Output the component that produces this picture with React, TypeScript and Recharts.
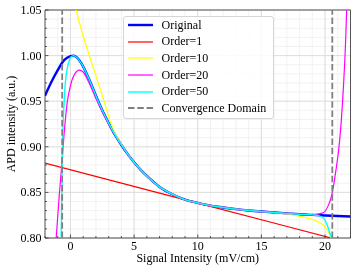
import {
  LineChart,
  Line,
  XAxis,
  YAxis,
  CartesianGrid,
  ReferenceLine,
  ReferenceArea,
  Legend,
  Label,
} from 'recharts'

const FONT = '"Liberation Serif", "Times New Roman", serif'

// axis ticks
const xTicks = [-2, -1, 0, 1, 2, 3, 4, 5, 6, 7, 8, 9, 10, 11, 12, 13, 14, 15, 16, 17, 18, 19, 20, 21, 22]
const xMajorTicks = [0, 5, 10, 15, 20]
const yTicks = [
  0.8, 0.81, 0.82, 0.83, 0.84, 0.85, 0.86, 0.87, 0.88, 0.89, 0.9, 0.91, 0.92, 0.93, 0.94, 0.95, 0.96,
  0.97, 0.98, 0.99, 1.0, 1.01, 1.02, 1.03, 1.04, 1.05,
]
const yMajorTicks = [0.8, 0.85, 0.9, 0.95, 1.0, 1.05]

// convergence domain of the expansion (mV/cm)
const convergenceBounds = [-0.65, 20.57]

// [signal intensity, APD intensity]
const originalPoints: [number, number][] = [
  [-2, 0.956], [-1.5, 0.971], [-1, 0.984], [-0.5, 0.995], [0, 0.9995], [0.25, 1.0], [0.5, 0.998],
  [1, 0.988], [1.5, 0.973], [2, 0.956], [2.5, 0.94], [3, 0.926], [3.5, 0.913], [4, 0.902],
  [4.5, 0.892], [5, 0.883], [5.5, 0.875], [6, 0.868], [7, 0.856], [8, 0.848], [9, 0.842],
  [10, 0.8385], [11, 0.8355], [12, 0.8335], [13, 0.8317], [14, 0.8302], [15, 0.829], [16, 0.828],
  [17, 0.827], [18, 0.826], [19, 0.8253], [20, 0.8247], [21, 0.8241], [22, 0.8235],
]

const order1Points: [number, number][] = [
  [-2, 0.8822], [10, 0.8383], [22, 0.7944],
]

const order10Points: [number, number][] = [
  [0, 1.078], [0.45, 1.05], [0.8, 1.031], [1.12, 1.016], [1.5, 0.999], [1.95, 0.98], [2.35, 0.963],
  [2.73, 0.946], [3.125, 0.928], [3.5, 0.915], [4, 0.903], [4.5, 0.892], [5, 0.883], [5.5, 0.875],
  [6, 0.868], [7, 0.856], [8, 0.848], [9, 0.842], [10, 0.8385], [11, 0.8355], [12, 0.8335],
  [13, 0.8317], [14, 0.8302], [15, 0.829], [16, 0.8278], [17, 0.8264], [18, 0.8238], [18.5, 0.8222],
  [19, 0.8203], [19.5, 0.8172], [19.9, 0.8137], [20.15, 0.809], [20.35, 0.804], [20.55, 0.797],
  [20.8, 0.785],
]

const order20Points: [number, number][] = [
  [-1.3, 0.767], [-1.12, 0.8], [-0.9, 0.843], [-0.68, 0.881], [-0.5, 0.914], [-0.25, 0.949],
  [0, 0.967], [0.3, 0.979], [0.7, 0.984], [1, 0.982], [1.43, 0.971], [2, 0.953], [2.5, 0.938],
  [3, 0.925], [3.5, 0.913], [4, 0.902], [4.5, 0.892], [5, 0.883], [5.5, 0.875], [6, 0.868],
  [7, 0.856], [8, 0.848], [9, 0.842], [10, 0.8385], [11, 0.8355], [12, 0.8335], [13, 0.8317],
  [14, 0.8302], [15, 0.829], [16, 0.828], [17, 0.827], [18, 0.826], [19, 0.8255], [19.5, 0.8265],
  [19.9, 0.828], [20.25, 0.8355], [20.45, 0.843], [20.6, 0.852], [20.83, 0.872], [21.15, 0.907],
  [21.4, 0.955], [21.6, 1.01], [21.7, 1.05], [21.85, 1.11],
]

const order50Points: [number, number][] = [
  [-0.8, 0.735], [-0.73, 0.8], [-0.66, 0.87], [-0.6, 0.916], [-0.5, 0.948], [-0.39, 0.972],
  [-0.25, 0.986], [-0.13, 0.993], [0, 0.998], [0.25, 1.0], [0.5, 0.998], [1, 0.988], [1.5, 0.973],
  [2, 0.956], [2.5, 0.94], [3, 0.926], [3.5, 0.913], [4, 0.902], [4.5, 0.892], [5, 0.883],
  [5.5, 0.875], [6, 0.868], [7, 0.856], [8, 0.848], [9, 0.842], [10, 0.8385], [11, 0.8355],
  [12, 0.8335], [13, 0.8317], [14, 0.8302], [15, 0.829], [16, 0.828], [17, 0.827], [18, 0.826],
  [19, 0.8253], [19.5, 0.8245], [19.9, 0.8215], [20.18, 0.8137], [20.36, 0.806], [20.5, 0.8],
  [20.6, 0.79],
]

const toRows = (pts: [number, number][]) => pts.map(([x, y]) => ({ x, y }))

const series = [
  { name: 'Original', color: '#0000ff', width: 2.4, points: originalPoints },
  { name: 'Order=1', color: '#ff0000', width: 1.2, points: order1Points },
  { name: 'Order=10', color: '#ffff00', width: 1.2, points: order10Points },
  { name: 'Order=20', color: '#ff00ff', width: 1.2, points: order20Points },
  { name: 'Order=50', color: '#00ffff', width: 1.4, points: order50Points },
]

const dashColor = '#808080'
const dash = '6.5 2.8'

function XTick(props: any) {
  const { x, y, payload } = props
  const major = xMajorTicks.includes(payload.value)
  return (
    <g>
      <line x1={x} x2={x} y1={y} y2={y - (major ? 3.5 : 2)} stroke="#333" strokeWidth={0.8} />
      {major && (
        <text x={x} y={y + 11.5} textAnchor="middle" fontSize={12} fontFamily={FONT} fill="#000">
          {payload.value}
        </text>
      )}
    </g>
  )
}

function YTick(props: any) {
  const { x, y, payload } = props
  const major = yMajorTicks.includes(payload.value)
  return (
    <g>
      <line x1={x} x2={x + (major ? 3.5 : 2)} y1={y} y2={y} stroke="#333" strokeWidth={0.8} />
      {major && (
        <text x={x - 3.5} y={y + 4} textAnchor="end" fontSize={12} fontFamily={FONT} fill="#000">
          {payload.value.toFixed(2)}
        </text>
      )}
    </g>
  )
}

function LegendBox() {
  const items = [
    ...series.map((s) => ({ name: s.name, color: s.color, width: s.width, dashed: false })),
    { name: 'Convergence Domain', color: dashColor, width: 1.8, dashed: true },
  ]
  return (
    <div
      style={{
        boxSizing: 'border-box',
        width: 151,
        height: 103,
        background: 'rgba(255,255,255,0.88)',
        border: '1px solid #d6d6d6',
        borderRadius: 3,
        padding: '0 4px 0 4px',
        fontFamily: FONT,
        fontSize: 12,
        color: '#000',
      }}
    >
      {items.map((item) => (
        <div key={item.name} style={{ display: 'flex', alignItems: 'center', height: 16.6 }}>
          <svg width={25} height={6} style={{ display: 'block' }}>
            <line
              x1={0}
              x2={25}
              y1={3}
              y2={3}
              stroke={item.color}
              strokeWidth={item.width}
              strokeDasharray={item.dashed ? dash : undefined}
            />
          </svg>
          <span style={{ marginLeft: 9, whiteSpace: 'nowrap' }}>{item.name}</span>
        </div>
      ))}
    </div>
  )
}

export default function App() {
  return (
    <div style={{ position: 'fixed', left: 0, top: 0 }}>
      <LineChart width={357} height={273} margin={{ top: 10, right: 6.5, bottom: 0, left: 0 }}>
        <CartesianGrid stroke="#efefef" strokeWidth={0.8} verticalValues={xTicks} horizontalValues={yTicks} />
        <CartesianGrid stroke="#d9d9d9" strokeWidth={0.8} verticalValues={xMajorTicks} horizontalValues={yMajorTicks} />
        <XAxis
          type="number"
          dataKey="x"
          domain={[-2, 22]}
          ticks={xTicks}
          interval={0}
          allowDataOverflow
          height={35}
          tickSize={0}
          tickMargin={0}
          axisLine={false}
          tickLine={false}
          tick={(p: any) => <XTick {...p} />}
        >
          <Label
            content={({ viewBox }: any) => (
              <text
                x={viewBox.x + viewBox.width / 2}
                y={262}
                textAnchor="middle"
                fontSize={12}
                fontFamily={FONT}
                fill="#000"
              >
                Signal Intensity (mV/cm)
              </text>
            )}
          />
        </XAxis>
        <YAxis
          type="number"
          domain={[0.8, 1.05]}
          ticks={yTicks}
          interval={0}
          allowDataOverflow
          width={45}
          tickSize={0}
          tickMargin={0}
          axisLine={false}
          tickLine={false}
          tick={(p: any) => <YTick {...p} />}
        >
          <Label
            content={({ viewBox }: any) => (
              <text
                transform={`translate(15, ${viewBox.y + viewBox.height / 2}) rotate(-90)`}
                textAnchor="middle"
                fontSize={12}
                fontFamily={FONT}
                fill="#000"
              >
                APD intensity (a.u.)
              </text>
            )}
          />
        </YAxis>
        {series.map((s) => (
          <Line
            key={s.name}
            name={s.name}
            data={toRows(s.points)}
            dataKey="y"
            type="monotone"
            stroke={s.color}
            strokeWidth={s.width}
            dot={false}
            activeDot={false}
            isAnimationActive={false}
          />
        ))}
        {convergenceBounds.map((b) => (
          <ReferenceLine key={b} x={b} stroke={dashColor} strokeWidth={1.8} strokeDasharray={dash} />
        ))}
        <ReferenceArea x1={-2} x2={22} y1={0.8} y2={1.05} fill="none" stroke="#555" strokeWidth={1} />
        <Legend
          layout="vertical"
          align="center"
          verticalAlign="middle"
          wrapperStyle={{ left: 122.5, top: 16, width: 151, height: 103 }}
          content={() => <LegendBox />}
        />
      </LineChart>
    </div>
  )
}
